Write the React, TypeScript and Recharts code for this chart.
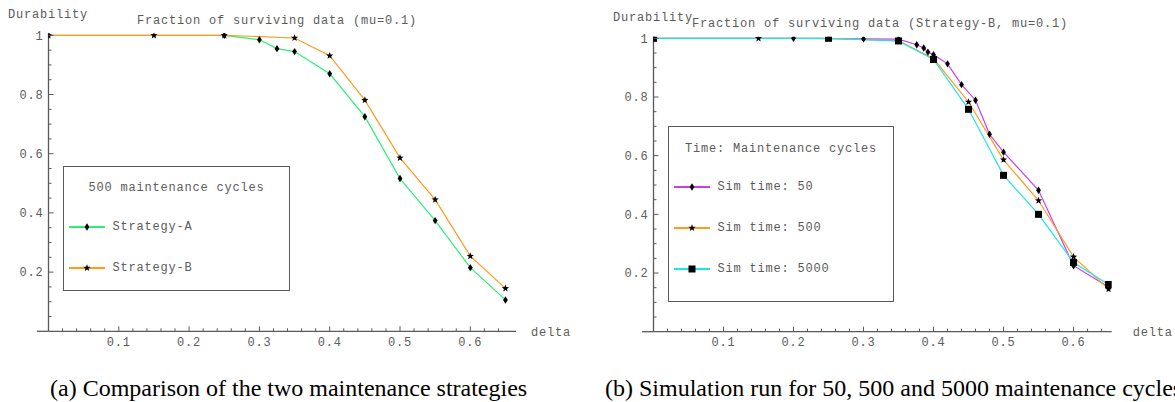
import React from 'react';
import { LineChart, Line, XAxis, YAxis, Legend, ReferenceLine } from 'recharts';

// ---------- Data: left chart (500 maintenance cycles) ----------
const deltaA = [0, 0.25, 0.3, 0.325, 0.35, 0.4, 0.45, 0.5, 0.55, 0.6, 0.65];
const durabilityA = [1, 1, 0.985, 0.955, 0.945, 0.87, 0.725, 0.516, 0.374, 0.215, 0.106];
const deltaB = [0, 0.15, 0.25, 0.35, 0.4, 0.45, 0.5, 0.55, 0.6, 0.65];
const durabilityB = [1, 1, 1, 0.991, 0.931, 0.781, 0.586, 0.445, 0.254, 0.145];

// ---------- Data: right chart (Strategy-B) ----------
const delta50 = [0, 0.2, 0.3, 0.35, 0.376, 0.386, 0.392, 0.4, 0.42, 0.44, 0.46, 0.48, 0.5, 0.55, 0.6, 0.65];
const durability50 = [1, 1, 0.998, 0.997, 0.978, 0.967, 0.953, 0.944, 0.913, 0.842, 0.789, 0.673, 0.612, 0.482, 0.225, 0.152];
const delta500 = [0, 0.15, 0.25, 0.35, 0.4, 0.45, 0.5, 0.55, 0.6, 0.65];
const durability500 = [1, 1, 1, 0.991, 0.931, 0.783, 0.586, 0.447, 0.255, 0.145];
const delta5000 = [0, 0.25, 0.35, 0.4, 0.45, 0.5, 0.55, 0.6, 0.65];
const durability5000 = [1, 1, 0.991, 0.928, 0.758, 0.533, 0.4, 0.236, 0.161];

// ---------- Ticks ----------
const xMajorTicks = [0.1, 0.2, 0.3, 0.4, 0.5, 0.6];
const xMinorTicks = [0.02, 0.04, 0.06, 0.08, 0.12, 0.14, 0.16, 0.18, 0.22, 0.24, 0.26, 0.28, 0.32, 0.34, 0.36, 0.38, 0.42, 0.44, 0.46, 0.48, 0.52, 0.54, 0.56, 0.58, 0.62, 0.64];
const yMajorTicks = [0.2, 0.4, 0.6, 0.8, 1];
const yMinorTicks = [0.05, 0.1, 0.15, 0.25, 0.3, 0.35, 0.45, 0.5, 0.55, 0.65, 0.7, 0.75, 0.85, 0.9, 0.95];

// ---------- Text ----------
const leftTitle = 'Fraction of surviving data (mu=0.1)';
const rightTitle = 'Fraction of surviving data (Strategy-B, mu=0.1)';
const leftLegendTitle = '500 maintenance cycles';
const rightLegendTitle = 'Time: Maintenance cycles';
const captionA = '(a) Comparison of the two maintenance strategies';
const captionB = '(b) Simulation run for 50, 500 and 5000 maintenance cycles';

const GREEN = '#2cef78';
const ORANGE = '#ff9a1c';
const MAGENTA = '#c93cf2';
const CYAN = '#1fe6e6';
const AXIS = '#5a5a5a';
const TEXT = '#5c5c5c';
const MONO = "'Liberation Mono', 'DejaVu Sans Mono', monospace";
const SERIF = "'Liberation Serif', 'DejaVu Serif', serif";
const monoStyle = { fontFamily: MONO, fontSize: 12, letterSpacing: '0.8px' };

const toPoints = (xs: number[], ys: number[]) => xs.map((x, i) => ({ delta: x, durability: ys[i] }));

// ---------- Markers ----------
const Diamond = ({ cx, cy }: { cx: number; cy: number }) => (
  <polygon points={`${cx},${cy - 3.7} ${cx + 2.4},${cy} ${cx},${cy + 3.7} ${cx - 2.4},${cy}`} fill="#000" />
);
const starPoints = (cx: number, cy: number, ro: number, ri: number) => {
  const pts: string[] = [];
  for (let k = 0; k < 10; k++) {
    const r = k % 2 === 0 ? ro : ri;
    const a = -Math.PI / 2 + (k * Math.PI) / 5;
    pts.push(`${cx + r * Math.cos(a)},${cy + r * Math.sin(a)}`);
  }
  return pts.join(' ');
};
const Star = ({ cx, cy }: { cx: number; cy: number }) => (
  <polygon points={starPoints(cx, cy, 3.8, 1.6)} fill="#000" />
);
const Square = ({ cx, cy }: { cx: number; cy: number }) => (
  <rect x={cx - 3.5} y={cy - 3.5} width={7} height={7} fill="#000" />
);

const markerFor: Record<string, any> = {
  'Strategy-A': Diamond,
  'Strategy-B': Star,
  'Sim time: 50': Diamond,
  'Sim time: 500': Star,
  'Sim time: 5000': Square,
};

const makeDot = (Shape: any) => (props: any) => {
  const { cx, cy, index } = props;
  if (cx == null || cy == null) return <g key={`e-${index}`} />;
  return <Shape key={`m-${index}`} cx={cx} cy={cy} />;
};

// ---------- Tick renderers ----------
const XTick = (props: any) => {
  const { x, y, payload } = props;
  const major = xMajorTicks.includes(payload.value);
  return (
    <g>
      <line x1={x} x2={x} y1={y} y2={y - (major ? 5 : 3)} stroke={AXIS} strokeWidth={1} />
      {major && (
        <text x={x} y={y + 14.5} textAnchor="middle" fill={TEXT} style={monoStyle}>
          {String(payload.value)}
        </text>
      )}
    </g>
  );
};
const YTick = (props: any) => {
  const { x, y, payload } = props;
  const major = yMajorTicks.includes(payload.value);
  return (
    <g>
      <line x1={x} x2={x + (major ? 5 : 3)} y1={y} y2={y} stroke={AXIS} strokeWidth={1} />
      {major && (
        <text x={x - 5} y={y} dy="0.35em" textAnchor="end" fill={TEXT} style={monoStyle}>
          {String(payload.value)}
        </text>
      )}
    </g>
  );
};

// ---------- Legend ----------
const makeLegend = (title: string, rowTops: number[], titleTop: number) => (props: any) => {
  const payload = props.payload || [];
  return (
    <div style={{ position: 'relative', width: '100%', height: '100%', boxSizing: 'border-box', border: `1.5px solid ${AXIS}`, background: '#fff' }}>
      <div style={{ position: 'absolute', left: 0, right: 0, top: titleTop - 8, textAlign: 'center', color: TEXT, ...monoStyle, lineHeight: '16px' }}>
        {title}
      </div>
      {payload.map((entry: any, i: number) => {
        const Shape = markerFor[entry.value];
        return (
          <div key={entry.value} style={{ position: 'absolute', left: 0, top: rowTops[i] - 8, height: 16, width: '100%' }}>
            <svg width={46} height={16} style={{ position: 'absolute', left: 4, top: 0 }}>
              <line x1={1} x2={37} y1={8} y2={8} stroke={entry.color} strokeWidth={2} />
              {Shape && <Shape cx={19} cy={8} />}
            </svg>
            <span style={{ position: 'absolute', left: 48.5, top: 0, lineHeight: '16px', color: TEXT, ...monoStyle, whiteSpace: 'nowrap' }}>
              {entry.value}
            </span>
          </div>
        );
      })}
    </div>
  );
};

const axisLineStyle = { stroke: AXIS, strokeWidth: 1.3 };
const labelStyle = { fill: TEXT, fontFamily: MONO, fontSize: 12, letterSpacing: '0.8px' };

export default function App() {
  const dataA = toPoints(deltaA, durabilityA);
  const dataB = toPoints(deltaB, durabilityB);
  const data50 = toPoints(delta50, durability50);
  const data500 = toPoints(delta500, durability500);
  const data5000 = toPoints(delta5000, durability5000);

  return (
    <div style={{ position: 'absolute', left: 0, top: 0, width: 1175, height: 402, background: '#fff', overflow: 'hidden' }}>
      {/* Left chart */}
      <div style={{ position: 'absolute', left: 0, top: 0 }}>
        <LineChart width={590} height={402} margin={{ top: 33.3, left: 47.5, right: 74, bottom: 69.7 }}>
          <XAxis
            dataKey="delta"
            type="number"
            domain={[0, 0.665]}
            ticks={[...xMajorTicks, ...xMinorTicks]}
            interval={0}
            height={1}
            tickSize={0}
            tickMargin={0}
            tickLine={false}
            axisLine={axisLineStyle}
            tick={<XTick />}
            allowDataOverflow
            label={{ value: 'delta', position: 'right', offset: 15, style: labelStyle }}
          />
          <YAxis
            type="number"
            domain={[0, 1.0068]}
            ticks={[...yMajorTicks, ...yMinorTicks]}
            interval={0}
            width={1}
            tickSize={0}
            tickMargin={0}
            tickLine={false}
            axisLine={axisLineStyle}
            tick={<YTick />}
            allowDataOverflow
            label={{ value: 'Durability', position: 'top', offset: 15, style: labelStyle }}
          />
          <ReferenceLine
            segment={[{ x: -0.0165, y: 0 }, { x: 0, y: 0 }]}
            ifOverflow="visible"
            stroke={AXIS}
            strokeWidth={1.3}
          />
          <Legend
            layout="vertical"
            align="center"
            verticalAlign="middle"
            wrapperStyle={{ left: 63, top: 166, width: 227, height: 125 }}
            content={makeLegend(leftLegendTitle, [60, 101], 21)}
          />
          <Line data={dataA} dataKey="durability" name="Strategy-A" stroke={GREEN} strokeWidth={1.2} dot={makeDot(Diamond)} activeDot={false} isAnimationActive={false} />
          <Line data={dataB} dataKey="durability" name="Strategy-B" stroke={ORANGE} strokeWidth={1.2} dot={makeDot(Star)} activeDot={false} isAnimationActive={false} />
        </LineChart>
      </div>

      {/* Right chart */}
      <div style={{ position: 'absolute', left: 590, top: 0 }}>
        <LineChart width={585} height={402} margin={{ top: 36.7, left: 62.5, right: 63.3, bottom: 69.3 }}>
          <XAxis
            dataKey="delta"
            type="number"
            domain={[0, 0.6545]}
            ticks={[...xMajorTicks, ...xMinorTicks]}
            interval={0}
            height={1}
            tickSize={0}
            tickMargin={0}
            tickLine={false}
            axisLine={axisLineStyle}
            tick={<XTick />}
            allowDataOverflow
            label={{ value: 'delta', position: 'right', offset: 21, style: labelStyle }}
          />
          <YAxis
            type="number"
            domain={[0, 1.0055]}
            ticks={[...yMajorTicks, ...yMinorTicks]}
            interval={0}
            width={1}
            tickSize={0}
            tickMargin={0}
            tickLine={false}
            axisLine={axisLineStyle}
            tick={<YTick />}
            allowDataOverflow
            label={{ value: 'Durability', position: 'top', offset: 16, style: labelStyle }}
          />
          <ReferenceLine
            segment={[{ x: -0.0165, y: 0 }, { x: 0, y: 0 }]}
            ifOverflow="visible"
            stroke={AXIS}
            strokeWidth={1.3}
          />
          <Legend
            layout="vertical"
            align="center"
            verticalAlign="middle"
            wrapperStyle={{ left: 78, top: 126, width: 226, height: 176 }}
            content={makeLegend(rightLegendTitle, [59.7, 101, 142.3], 21.7)}
          />
          <Line data={data50} dataKey="durability" name="Sim time: 50" stroke={MAGENTA} strokeWidth={1.2} dot={makeDot(Diamond)} activeDot={false} isAnimationActive={false} />
          <Line data={data500} dataKey="durability" name="Sim time: 500" stroke={ORANGE} strokeWidth={1.2} dot={makeDot(Star)} activeDot={false} isAnimationActive={false} />
          <Line data={data5000} dataKey="durability" name="Sim time: 5000" stroke={CYAN} strokeWidth={1.2} dot={makeDot(Square)} activeDot={false} isAnimationActive={false} />
        </LineChart>
      </div>

      {/* Titles and captions */}
      <svg width={1175} height={402} style={{ position: 'absolute', left: 0, top: 0, pointerEvents: 'none' }}>
        <text x={137} y={24} fill={TEXT} style={monoStyle}>{leftTitle}</text>
        <text x={692} y={27} fill={TEXT} style={monoStyle}>{rightTitle}</text>
        <text x={50} y={396} fill="#000" style={{ fontFamily: SERIF, fontSize: 24 }}>{captionA}</text>
        <text x={605} y={396} fill="#000" style={{ fontFamily: SERIF, fontSize: 24 }}>{captionB}</text>
      </svg>
    </div>
  );
}
